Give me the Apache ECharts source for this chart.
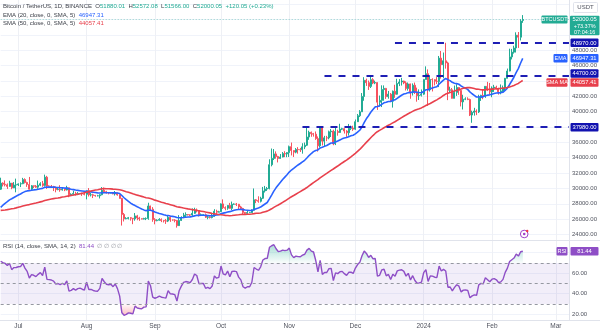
<!DOCTYPE html>
<html><head><meta charset="utf-8">
<script src="https://cdn.jsdelivr.net/npm/echarts@6/dist/echarts.min.js"></script>
<style>html,body{margin:0;padding:0;background:#fff}#c{width:600px;height:332px}</style>
</head><body><div id="c"></div>
<script>
// ---------- data ----------
const startDate = [2023, 5, 23];   // 23 Jun 2023 (first category)
const dayCount = 259;              // categories through 7 Mar 2024
// daily candles [open, high, low, close], 23 Jun 2023 .. 15 Feb 2024
const ohlc = [
[29900,31400,29800,30690],[30690,30800,30260,30550],[30550,31050,30270,30470],[30470,30660,29940,30270],[30270,31000,30230,30700],[30700,30710,29900,30080],[30080,30830,30040,30450],[30450,31280,29500,30480],
[30480,30660,30320,30590],[30590,30800,30180,30620],[30620,31380,30560,31160],[31160,31320,30650,30770],[30770,30880,30210,30510],[30510,31500,29850,29900],[29900,30450,29700,30350],[30350,30380,30050,30290],[30290,30440,30080,30170],[30170,31030,29950,30420],[30420,30810,30300,30620],[30620,30980,30210,30390],[30390,31800,30250,31470],[31470,31640,29940,30320],[30320,30400,30250,30290],[30290,30450,30080,30250],[30250,30340,29660,30140],[30140,30240,29500,29860],[29860,30190,29760,29910],[29910,30420,29570,29800],[29800,30060,29720,29910],[29910,29990,29650,29800],[29800,30350,29740,30090],[30090,30100,28860,29180],[29180,29370,29050,29230],[29230,29690,29100,29350],[29350,29570,29080,29220],[29220,29530,29130,29320],[29320,29410,29260,29350],[29350,29450,29030,29280],[29280,29530,29100,29230],
[29230,29740,28580,29700],[29700,30050,28950,29170],[29170,29410,28960,29180],[29180,29310,28750,29100],[29100,29120,28930,29050],[29050,29170,28970,29050],[29050,29240,28700,29180],[29180,30180,29110,29770],[29770,30130,29380,29570],[29570,29690,29340,29430],[29430,29530,29230,29400],[29400,29470,29360,29420],[29420,29450,29250,29290],[29290,29670,29080,29410],[29410,29460,29060,29170],[29170,29230,28700,28700],[28700,28770,25170,26620],[26620,26810,25700,26050],[26050,26260,25990,26100],[26100,26290,25970,26190],[26190,26260,25810,26120],[26120,26140,25350,26040],[26040,26800,25800,26430],[26430,26560,25860,26160],[26160,26310,25780,26060],[26060,26100,25980,26010],[26010,26180,25960,26090],[26090,26230,25880,26100],[26100,28140,25920,27720],[27720,27760,27050,27300],[27300,27570,25660,25940],
[25940,26130,25330,25800],[25800,25980,25730,25870],[25870,26130,25800,25970],[25970,26100,25620,25820],[25820,25860,25570,25780],[25780,26030,25380,25750],[25750,26440,25620,26240],[26240,26430,25650,25900],[25900,25950,25800,25890],[25890,25990,25590,25830],[25830,25880,24900,25160],[25160,26530,25130,25840],[25840,26380,25760,26220],[26220,26820,26130,26530],[26530,26890,26230,26600],[26600,26670,26480,26570],[26570,26620,26390,26530],[26530,27410,26390,26760],[26760,27490,26680,27210],[27210,27390,26880,27130],[27130,27160,26350,26570],[26570,26740,26480,26580],[26580,26640,26500,26580],[26580,26740,26150,26250],[26250,26430,25990,26300],[26300,26390,26090,26210],[26210,26820,26110,26350],[26350,27300,26340,27030],[27030,27230,26660,26910],[26910,27090,26880,26970],
[26970,28060,26950,27990],[27990,28580,27330,27500],[27500,27670,27160,27430],[27430,27830,27220,27790],[27790,28120,27360,27410],[27410,28290,27180,27950],[27950,28050,27870,27970],[27970,28110,27710,27940],[27940,27990,27290,27590],[27590,27740,27300,27390],[27390,27480,26560,26870],[26870,26940,26560,26760],[26760,27130,26690,26860],[26860,26950,26820,26860],[26860,27290,26800,27160],[27160,30000,27120,28520],[28520,28620,28090,28420],[28420,28980,28140,28330],[28330,28920,28180,28720],[28720,30200,28620,29680],[29680,30330,29470,29920],[29920,30200,29680,29990],[29990,33800,29880,33090],[33090,35200,32880,33910],[33910,35130,33700,34500],[34500,34830,33880,34160],[34160,34250,33390,33910],[33910,34480,33870,34090],[34090,34740,34050,34540],[34540,34850,34080,34500],[34500,34720,34070,34670],
[34670,35580,34100,35440],[35440,35980,34300,34940],[34940,34950,34100,34730],[34730,35260,34580,35080],[35080,35380,34530,35050],[35050,35280,34750,35040],[35040,35890,34530,35420],[35420,35980,35120,35630],[35630,37970,35530,36700],[36700,37520,36330,37310],[37310,37410,36730,37130],[37130,37230,36750,37070],[37070,37420,36330,36490],[36490,36770,34800,35550],[35550,37980,35360,37880],[37880,37930,35600,36160],[36160,36850,35500,36590],[36590,36850,36160,36580],[36580,37530,36400,37380],[37380,37740,36700,37470],[37470,37650,35630,35810],[35810,37880,35650,37420],[37420,37650,36870,37290],[37290,38420,37250,37720],[37720,37900,37600,37790],[37790,37830,37150,37480],[37480,37590,36720,37250],[37250,38400,36880,37830],[37830,38180,37600,37860],[37860,38170,37500,37720],
[37720,38980,37630,38690],[38690,39700,38650,39470],[39470,40200,39300,39980],[39980,42420,39980,41980],[41980,44490,41420,44080],[44080,44300,43350,43780],[43780,44050,42830,43290],[43290,44700,43080,44170],[44170,44360,43580,43730],[43730,44040,43580,43790],[43790,43810,40230,41240],[41240,42100,40680,41470],[41470,43430,40600,42880],[42880,43420,41420,43030],[43030,43090,41660,41950],[41950,42700,41690,42280],[42280,42430,41250,41370],[41370,42750,40530,42660],[42660,43500,41800,42270],[42270,44280,42200,43670],[43670,44240,43330,43860],[43860,44400,43400,43990],[43990,44030,43580,43740],[43740,43950,42760,43020],[43020,43800,42740,43610],[43610,43650,41680,42520],[42520,43680,42100,43440],[43440,43790,42300,42580],[42580,43130,41300,42070],[42070,42900,41520,42140],[42140,42890,41970,42280],
[42280,44190,42190,44180],[44180,45900,44180,44940],[44940,45500,40750,42850],[42850,44730,42620,44190],[44190,44340,42630,44160],[44160,44230,43420,43970],[43970,44500,43600,43930],[43930,47250,43200,46970],[46970,47900,44300,46120],[46120,47700,44350,46630],[46630,48970,45600,46340],[46340,46500,41500,42780],[42780,43250,42440,42840],[42840,43080,41720,41730],[41730,43400,41720,42510],[42510,43580,42050,43140],[43140,43200,42190,42770],[42770,42930,40680,41270],[41270,42200,40280,41620],[41620,41870,41500,41660],[41660,41870,41500,41580],[41580,41690,39430,39560],[39560,40130,38550,39900],[39900,40500,39480,40080],[40080,40300,39550,39960],[39960,42200,39820,41820],[41820,42200,41400,42120],[42120,42840,41620,42030],[42030,43300,41800,43300],[43300,43880,42680,42950],[42950,43740,42280,42580],
[42580,43290,41880,43080],[43080,43490,42570,43190],[43190,43380,42880,43000],[43000,43120,42220,42580],[42580,43540,42260,42700],[42700,43400,42570,43090],[43090,44390,42790,44340],[44340,45610,44330,45290],[45290,48200,45250,47130],[47130,48170,46800,47750],[47750,48590,47560,48290],[48290,50330,47700,49960],[49960,50370,48300,49700],[49700,52040,49270,51790],[51880.01,52572.08,51566.00,52000.05]
];
const ema20 = [
27530,27820,28070,28280,28510,28660,28830,28990,29140,29280,
29460,29590,29680,29700,29760,29810,29840,29900,29970,30010,
30150,30170,30180,30190,30180,30150,30130,30100,30080,30050,
30050,29970,29900,29850,29790,29750,29710,29670,29630,29640,
29590,29550,29510,29470,29430,29410,29440,29450,29450,29450,
29450,29430,29430,29410,29340,29080,28790,28540,28310,28100,
27910,27770,27610,27470,27330,27210,27110,27160,27180,27060,
26940,26840,26750,26670,26580,26500,26480,26420,26370,26320,
26210,26180,26180,26210,26250,26280,26300,26350,26430,26500,
26500,26510,26520,26490,26470,26450,26440,26500,26540,26580,
26710,26790,26850,26940,26980,27070,27160,27230,27270,27280,
27240,27190,27160,27130,27130,27260,27370,27460,27580,27780,
27980,28170,28640,29140,29650,30080,30450,30800,31160,31480,
31780,32130,32400,32620,32850,33060,33250,33460,33670,33960,
34280,34550,34790,34950,35010,35280,35360,35480,35590,35760,
35920,35910,36050,36170,36320,36460,36560,36630,36740,36850,
36930,37100,37330,37580,38000,38580,39070,39470,39920,40280,
40620,40680,40750,40950,41150,41230,41330,41330,41460,41540,
41740,41940,42140,42290,42360,42480,42480,42570,42570,42520,
42490,42470,42630,42850,42850,42980,43090,43170,43250,43600,
43840,44110,44320,44170,44040,43820,43700,43650,43570,43350,
43190,43040,42900,42580,42330,42120,41910,41900,41920,41930,
42060,42150,42190,42270,42360,42420,42440,42460,42520,42760,
43060,43510,43990,44480,45090,45610,46300,46947.31
];
const sma50 = [
27150,27170,27200,27240,27300,27350,27400,27470,27550,27630,
27710,27780,27850,27900,27970,28040,28100,28180,28250,28320,
28420,28500,28570,28630,28680,28720,28760,28810,28880,28930,
28990,29030,29100,29140,29200,29250,29310,29380,29450,29520,
29590,29670,29740,29790,29840,29900,29960,29980,29970,29960,
29940,29910,29890,29870,29830,29760,29670,29580,29500,29410,
29300,29220,29130,29050,28970,28880,28800,28750,28680,28590,
28480,28390,28300,28210,28130,28040,27970,27890,27810,27730,
27630,27570,27510,27450,27400,27340,27290,27240,27200,27140,
27090,27040,26990,26930,26880,26820,26750,26700,26650,26600,
26570,26540,26500,26470,26440,26470,26510,26550,26570,26600,
26620,26620,26640,26650,26680,26720,26770,26780,26810,26890,
26970,27050,27190,27350,27530,27700,27850,28010,28190,28360,
28550,28740,28920,29080,29250,29420,29590,29760,29930,30120,
30340,30550,30760,30960,31150,31380,31580,31770,31960,32170,
32360,32530,32730,32920,33120,33320,33510,33700,33900,34110,
34330,34570,34820,35080,35380,35690,36000,36300,36600,36890,
37160,37390,37560,37730,37910,38060,38230,38370,38540,38690,
38870,39040,39220,39400,39560,39730,39880,40040,40180,40290,
40380,40490,40630,40800,40940,41070,41230,41380,41530,41720,
41890,42110,42290,42390,42500,42580,42680,42790,42890,42960,
43040,43100,43140,43130,43090,43010,42930,42910,42860,42840,
42840,42880,42920,42930,42940,42980,42990,43030,43050,43100,
43140,43220,43300,43400,43550,43680,43880,44057.41
];
const rsi14 = [
71.7,70.4,69.6,67.6,69.6,63.5,65.5,65.6,66.3,66.4,
69.7,65.0,61.8,55.3,58.7,58.0,56.7,58.9,60.6,57.8,
66.0,54.0,53.8,53.4,52.3,49.5,50.0,48.8,50.2,48.8,
52.5,42.6,43.3,45.0,43.6,45.0,45.5,44.4,43.6,51.2,
44.2,44.3,43.2,42.6,42.5,45.2,54.9,51.7,49.3,48.8,
49.2,46.9,49.5,45.0,37.7,21.4,19.0,19.9,21.4,21.0,
20.4,27.9,26.1,25.6,25.3,27.0,27.2,52.4,47.8,36.6,
35.6,36.5,37.7,36.6,36.2,35.9,43.0,39.9,39.7,39.2,
32.9,42.9,47.4,51.1,51.9,51.5,50.9,53.9,59.2,57.8,
49.8,50.0,50.0,45.3,46.3,45.0,47.6,57.4,55.2,56.0,
67.0,59.3,58.3,62.1,56.5,61.8,62.0,61.6,56.2,53.5,
46.8,45.4,46.8,46.8,51.2,65.6,64.1,62.9,66.3,72.9,
74.3,74.6,85.3,86.8,87.8,83.9,81.0,81.5,82.6,82.0,
82.5,84.5,77.9,75.2,76.7,76.2,76.1,77.6,78.5,82.5,
84.2,81.6,80.7,72.4,61.4,72.5,58.9,60.8,60.7,64.4,
64.7,52.9,60.4,59.6,61.5,61.8,59.6,57.9,60.9,61.0,
59.8,65.0,68.5,70.6,77.1,81.6,79.3,75.4,77.5,74.1,
74.3,57.1,58.0,63.3,63.9,57.5,58.8,53.8,59.1,57.0,
62.3,63.0,63.4,61.8,57.2,59.9,53.4,57.6,52.9,50.2,
50.6,51.4,60.6,63.5,52.0,57.3,57.2,56.1,55.9,66.9,
62.2,63.8,62.2,46.4,46.6,42.8,46.2,48.8,47.4,41.8,
43.5,43.7,43.3,36.0,37.9,38.9,38.5,48.6,50.1,49.6,
55.6,53.7,51.7,54.2,54.8,53.6,50.8,51.6,54.0,60.8,
65.0,71.4,73.2,74.8,78.7,76.7,80.9,81.44
];
const priceTicks = [24000,26000,28000,30000,32000,34000,36000,38000,40000,42000,44000,46000,48000,50000,52000,54000];
const priceLabelTicks = [24000,26000,28000,30000,32000,34000,36000,40000,42000,46000,48000];
const rsiTicks = [20,40,60,80];
const rsiLabelTicks = [20,40,60];
const rsiBands = [30,50,70];
const monthTicks = [['2023-07-01','Jul'],['2023-08-01','Aug'],['2023-09-01','Sep'],['2023-10-01','Oct'],['2023-11-01','Nov'],['2023-12-01','Dec'],['2024-01-01','2024'],['2024-02-01','Feb'],['2024-03-01','Mar']];
const levels = [{value:48970, from:'2023-12-19'},{value:44700, from:'2023-11-17'},{value:37980, from:'2023-11-07'}];
const lastInfo = {symbol:'BTCUSDT', price:52000.05, pct:'+73.37%', countdown:'07:04:16'};
const header = {title:'Bitcoin / TetherUS, 1D, BINANCE', o:'51880.01', h:'52572.08', l:'51566.00', c:'52000.05', chg:'+120.05 (+0.23%)'};

// ---------- build ----------
const FONT = '"Liberation Sans", Arial, sans-serif';
const UP = '#22ab94', DOWN = '#f7525f', EMA_C = '#2962ff', SMA_C = '#e8404c', LVL = '#1212b0', RSI_C = '#8e4ec6', TXT = '#3d4049', AX = '#50535e';
const dates = [];
for (let i = 0; i < dayCount; i++) dates.push(new Date(Date.UTC(startDate[0], startDate[1], startDate[2]) + i * 864e5).toISOString().slice(0, 10));
const monthSet = new Set(monthTicks.map(m => m[0]));
const monthName = Object.fromEntries(monthTicks);
const candleData = ohlc.map(r => [r[0], r[3], r[2], r[1]]);
const lastDate = dates[dates.length - 1];

const GL = 0.7, GR = 30.9;
const PMIN = 23289, PMAX = 54539, RMIN = 14.4, RMAX = 92.4;

const chart = echarts.init(document.getElementById('c'), null, {renderer: 'canvas', width: 600, height: 332});
const vSplit = {show: true, interval: (i, v) => monthSet.has(v), lineStyle: {color: '#eef0f5', width: 1}};
const option = {
  animation: false,
  backgroundColor: '#ffffff',
  textStyle: {fontFamily: FONT},
  grid: [
    {left: GL, right: GR, top: 0, height: 240},
    {left: GL, right: GR, top: 240, height: 80}
  ],
  xAxis: [
    {gridIndex: 0, type: 'category', data: dates, boundaryGap: false, axisLine: {show: false}, axisTick: {show: false}, axisLabel: {show: false}, splitLine: vSplit},
    {gridIndex: 1, type: 'category', data: dates, boundaryGap: false, axisLine: {show: true, lineStyle: {color: '#e0e3eb'}}, axisTick: {show: false},
     axisLabel: {show: true, interval: (i, v) => monthSet.has(v), formatter: v => monthName[v] || '', fontSize: 6.5, color: AX, margin: 3, fontFamily: FONT},
     splitLine: vSplit}
  ],
  yAxis: [
    {gridIndex: 0, type: 'value', position: 'right', min: PMIN, max: PMAX, scale: true,
     axisLine: {show: true, lineStyle: {color: '#e0e3eb'}}, axisTick: {show: false, customValues: priceTicks},
     axisLabel: {customValues: priceLabelTicks, formatter: v => v.toFixed(2), fontSize: 6, color: AX, margin: 3, fontFamily: FONT},
     splitLine: {show: true, lineStyle: {color: '#f0f3fa'}}},
    {gridIndex: 1, type: 'value', position: 'right', min: RMIN, max: RMAX,
     axisLine: {show: true, lineStyle: {color: '#e0e3eb'}}, axisTick: {show: false, customValues: rsiTicks},
     axisLabel: {customValues: rsiLabelTicks, formatter: v => v.toFixed(2), fontSize: 6, color: AX, margin: 3, fontFamily: FONT},
     splitLine: {show: true, lineStyle: {color: '#f0f3fa'}}}
  ],
  series: [
    {type: 'candlestick', xAxisIndex: 0, yAxisIndex: 0, data: candleData, barWidth: '68%', z: 3,
     itemStyle: {color: UP, color0: DOWN, borderColor: UP, borderColor0: DOWN, borderWidth: 1},
     markLine: {silent: true, symbol: ['none', 'none'], animation: false, label: {show: false},
       data: levels.map(l => [{coord: [l.from, l.value], lineStyle: {color: LVL, width: 2, type: [7, 7], opacity: 0.95}}, {coord: [lastDate, l.value]}])
         .concat([{yAxis: lastInfo.price, lineStyle: {color: UP, width: 1, type: [1, 2], opacity: 0.45}}])}},
    {type: 'line', name: 'EMA', xAxisIndex: 0, yAxisIndex: 0, data: ema20, showSymbol: false, symbol: 'none', lineStyle: {color: EMA_C, width: 1.6}, z: 4, silent: true},
    {type: 'line', name: 'SMA', xAxisIndex: 0, yAxisIndex: 0, data: sma50, showSymbol: false, symbol: 'none', lineStyle: {color: SMA_C, width: 1.6}, z: 4, silent: true},
    {type: 'line', xAxisIndex: 1, yAxisIndex: 1, data: rsi14.map(v => Math.max(v, 70)), showSymbol: false, symbol: 'none', silent: true, z: 2,
     lineStyle: {opacity: 0, width: 0},
     areaStyle: {origin: 70, color: new echarts.graphic.LinearGradient(0, 0, 0, 1, [{offset: 0, color: 'rgba(34,171,148,0.55)'}, {offset: 1, color: 'rgba(34,171,148,0.04)'}])}},
    {type: 'line', xAxisIndex: 1, yAxisIndex: 1, data: rsi14.map(v => Math.min(v, 30)), showSymbol: false, symbol: 'none', silent: true, z: 2,
     lineStyle: {opacity: 0, width: 0},
     areaStyle: {origin: 30, color: new echarts.graphic.LinearGradient(0, 0, 0, 1, [{offset: 0, color: 'rgba(247,82,95,0.04)'}, {offset: 1, color: 'rgba(247,82,95,0.55)'}])}},
    {type: 'line', name: 'RSI', xAxisIndex: 1, yAxisIndex: 1, data: rsi14, showSymbol: false, symbol: 'none', silent: true, z: 4,
     lineStyle: {color: RSI_C, width: 1.4},
     markArea: {silent: true, itemStyle: {color: 'rgba(126,87,194,0.10)'}, data: [[{yAxis: rsiBands[0]}, {yAxis: rsiBands[2]}]]},
     markLine: {silent: true, symbol: ['none', 'none'], label: {show: false}, animation: false,
       lineStyle: {color: '#9598a1', width: 1, type: [3, 3]}, data: rsiBands.map(b => ({yAxis: b}))}}
  ]
};
chart.setOption(option);

// ---------- annotations placed through the axes ----------
const yP = v => chart.convertToPixel({yAxisIndex: 0}, v);
const yR = v => chart.convertToPixel({yAxisIndex: 1}, v);
const xD = d => chart.convertToPixel({xAxisIndex: 0}, d);
function T(x, y, text, fill, size, align, extra) {
  return Object.assign({type: 'text', x: x, y: y, z: 101, silent: true,
    style: {text: text, fill: fill, fontSize: size, fontFamily: FONT, align: align || 'left', verticalAlign: 'middle'}}, extra || {});
}
function R(x, y, w, h, fill, stroke) {
  return {type: 'rect', z: 100, silent: true, shape: {x: x, y: y, width: w, height: h, r: 1},
    style: {fill: fill, stroke: stroke || null, lineWidth: stroke ? 1 : 0}};
}
const g = [];
// pane separators
g.push({type: 'line', z: 90, silent: true, shape: {x1: 0, y1: 240.5, x2: 600, y2: 240.5}, style: {stroke: '#e0e3eb', lineWidth: 1}});
g.push({type: 'line', z: 90, silent: true, shape: {x1: 0, y1: 320.5, x2: 600, y2: 320.5}, style: {stroke: '#e0e3eb', lineWidth: 1}});
// USDT
g.push(R(573.5, 2.5, 24, 10, '#fff', '#e0e3eb'));
g.push(T(585.5, 7.7, 'USDT', AX, 6, 'center'));

// right-hand labels, pushed apart like the reference
const BH = 8.5;
const rl = [
  {y: yP(levels[0].value), fill: LVL, text: levels[0].value.toFixed(2)},
  {y: yP(ema20[ema20.length - 1]), fill: EMA_C, text: ema20[ema20.length - 1].toFixed(2), tag: 'EMA', tagW: 14},
  {y: yP(levels[1].value), fill: LVL, text: levels[1].value.toFixed(2)},
  {y: yP(sma50[sma50.length - 1]), fill: SMA_C, text: sma50[sma50.length - 1].toFixed(2), tag: 'SMA MA', tagW: 21},
  {y: yP(levels[2].value), fill: LVL, text: levels[2].value.toFixed(2)}
].sort((a, b) => a.y - b.y);
for (let i = 1; i < rl.length; i++) {
  const d = rl[i].y - rl[i - 1].y;
  if (d < BH + 0.5) { const s = (BH + 0.5 - d) / 2; rl[i - 1].y -= s; rl[i].y += s; }
}
rl.forEach(b => {
  g.push(R(570.5, b.y - BH / 2, 28, BH, b.fill));
  g.push(T(584.5, b.y + 0.3, b.text, '#fff', 5.8, 'center'));
  if (b.tag) {
    g.push(R(567.5 - b.tagW, b.y - BH / 2, b.tagW, BH, b.fill));
    g.push(T(567.5 - b.tagW / 2, b.y + 0.3, b.tag, '#fff', 5.5, 'center'));
  }
});
// last price label
const lpY = yP(lastInfo.price);
g.push(R(570, lpY - 3.8, 29.5, 19.5, UP));
g.push(T(584.7, lpY + 0.3, lastInfo.price.toFixed(2), '#fff', 5.8, 'center'));
g.push(T(584.7, lpY + 6.6, lastInfo.pct, '#fff', 5.5, 'center'));
g.push(T(584.7, lpY + 12.6, lastInfo.countdown, '#fff', 5.5, 'center'));
g.push(R(541.5, lpY - 4, 26, 8, UP));
g.push(T(554.5, lpY + 0.3, lastInfo.symbol, '#fff', 5.5, 'center'));
// RSI labels
const rY = yR(rsi14[rsi14.length - 1]);
g.push(R(570.5, rY - BH / 2, 28, BH, RSI_C));
g.push(T(584.5, rY + 0.3, rsi14[rsi14.length - 1].toFixed(2), '#fff', 5.8, 'center'));
g.push(R(556.5, rY - BH / 2, 11, BH, RSI_C));
g.push(T(562, rY + 0.3, 'RSI', '#fff', 5.5, 'center'));

// header legends
const rich = {
  t: {fill: TXT, fontSize: 6, fontFamily: FONT},
  v: {fill: UP, fontSize: 6, fontFamily: FONT},
  e: {fill: EMA_C, fontSize: 6, fontFamily: FONT},
  s: {fill: SMA_C, fontSize: 6, fontFamily: FONT},
  r: {fill: RSI_C, fontSize: 6, fontFamily: FONT},
  n: {fill: '#9598a1', fontSize: 6, fontFamily: FONT}
};
g.push({type: 'text', x: 3, y: 6, z: 101, silent: true, style: {verticalAlign: 'middle', rich: rich,
  text: '{t|' + header.title + '  O}{v|' + header.o + '} {t|H}{v|' + header.h + '} {t|L}{v|' + header.l + '} {t|C}{v|' + header.c + '} {v|' + header.chg + '}'}});
g.push({type: 'text', x: 3, y: 15, z: 101, silent: true, style: {verticalAlign: 'middle', rich: rich,
  text: '{t|EMA (20, close, 0, SMA, 5)} {e|' + ema20[ema20.length - 1].toFixed(2) + '}'}});
g.push({type: 'text', x: 3, y: 23.5, z: 101, silent: true, style: {verticalAlign: 'middle', rich: rich,
  text: '{t|SMA (50, close, 0, SMA, 5)} {s|' + sma50[sma50.length - 1].toFixed(2) + '}'}});
g.push({type: 'text', x: 3, y: 246.5, z: 101, silent: true, style: {verticalAlign: 'middle', rich: rich,
  text: '{t|RSI (14, close, SMA, 14, 2)} {r|' + rsi14[rsi14.length - 1].toFixed(2) + '} {n|\u2205 \u2205 \u2205 \u2205}'}});

// event marker under the last candle
const ex = xD(dates[ohlc.length - 1]) + 1.5;
g.push({type: 'circle', z: 101, silent: true, shape: {cx: ex, cy: 234, r: 3.8}, style: {fill: '#fff', stroke: '#a040c8', lineWidth: 1}});
g.push({type: 'circle', z: 102, silent: true, shape: {cx: ex, cy: 234, r: 1.3}, style: {fill: '#a040c8'}});
g.push({type: 'circle', z: 102, silent: true, shape: {cx: ex + 3, cy: 231, r: 1.2}, style: {fill: '#f23645'}});

chart.setOption({graphic: g});
</script>
</body></html>
